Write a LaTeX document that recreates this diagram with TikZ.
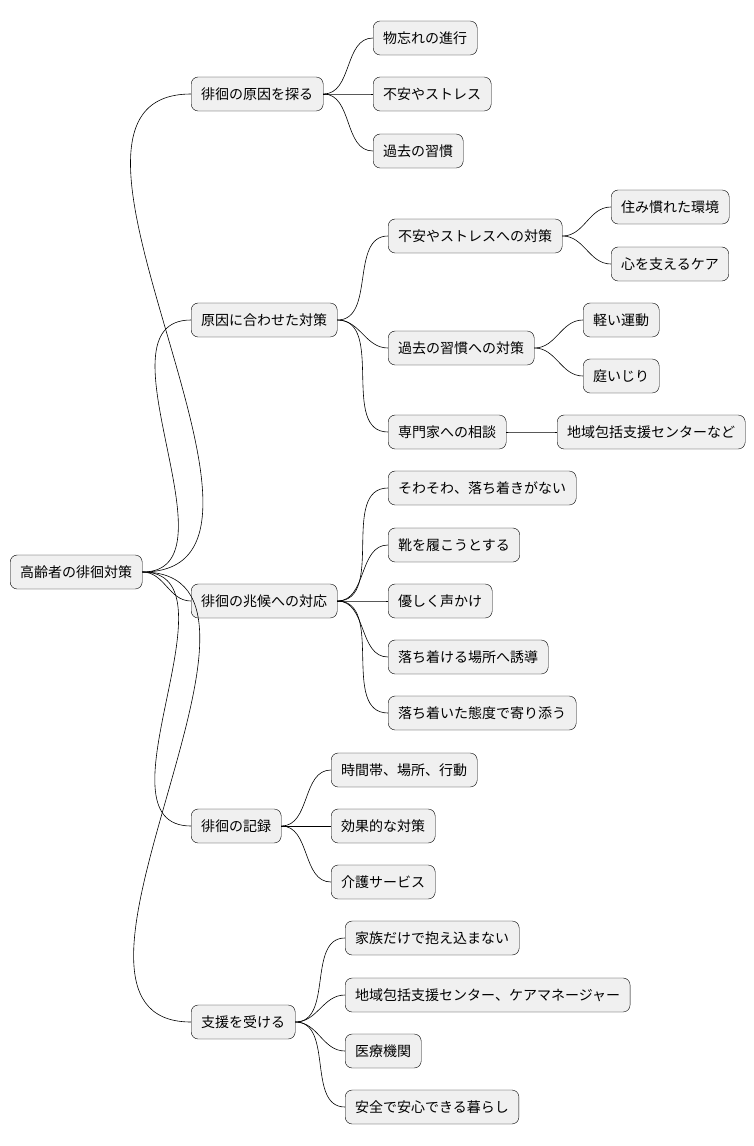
\documentclass[tikz,border=0pt]{standalone}
\usepackage{fontspec}
\setmainfont{Noto Sans CJK JP}
\usepackage{tikz}

\tikzset{
  topic/.style={draw=black, fill=black!6, rounded corners=7pt, anchor=west,
    minimum height=34pt, inner xsep=10pt, font=\fontsize{14}{16}\selectfont},
  branch/.style={draw=black, line width=0.6pt}
}

\begin{document}
\begin{tikzpicture}[x=1pt,y=-1pt]
		\useasboundingbox (0,0) rectangle (754,1146);
		% root
		\node[topic] (root) at (10,572) {高齢者の徘徊対策};
		% first level
		\node[topic] (cause) at (191,94) {徘徊の原因を探る};
		\node[topic] (plan) at (191,320) {原因に合わせた対策};
		\node[topic] (sign) at (191,601) {徘徊の兆候への対応};
		\node[topic] (log) at (191,826) {徘徊の記録};
		\node[topic] (help) at (191,1022) {支援を受ける};
		% causes
		\node[topic] (forget) at (373,38) {物忘れの進行};
		\node[topic] (stress) at (373,94) {不安やストレス};
		\node[topic] (habit) at (373,151) {過去の習慣};
		% plans
		\node[topic] (pstress) at (388,236) {不安やストレスへの対策};
		\node[topic] (phabit) at (388,348) {過去の習慣への対策};
		\node[topic] (expert) at (388,432) {専門家への相談};
		\node[topic] (home) at (611,207) {住み慣れた環境};
		\node[topic] (care) at (611,264) {心を支えるケア};
		\node[topic] (walk) at (583,320) {軽い運動};
		\node[topic] (garden) at (583,376) {庭いじり};
		\node[topic] (center) at (557,432) {地域包括支援センターなど};
		% signs
		\node[topic] (restless) at (388,488) {そわそわ、落ち着きがない};
		\node[topic] (shoes) at (388,545) {靴を履こうとする};
		\node[topic] (voice) at (388,601) {優しく声かけ};
		\node[topic] (guide) at (388,657) {落ち着ける場所へ誘導};
		\node[topic] (calm) at (388,713) {落ち着いた態度で寄り添う};
		% records
		\node[topic] (when) at (331,770) {時間帯、場所、行動};
		\node[topic] (effect) at (331,826) {効果的な対策};
		\node[topic] (service) at (331,882) {介護サービス};
		% support
		\node[topic] (family) at (345,938) {家族だけで抱え込まない};
		\node[topic] (manager) at (345,995) {地域包括支援センター、ケアマネージャー};
		\node[topic] (clinic) at (345,1051) {医療機関};
		\node[topic] (safe) at (345,1107) {安全で安心できる暮らし};
		% connectors
		\foreach \a/\b in {root/cause, root/plan, root/sign, root/log, root/help,
		  cause/forget, cause/stress, cause/habit,
		  plan/pstress, plan/phabit, plan/expert,
		  pstress/home, pstress/care, phabit/walk, phabit/garden, expert/center,
		  sign/restless, sign/shoes, sign/voice, sign/guide, sign/calm,
		  log/when, log/effect, log/service,
		  help/family, help/manager, help/clinic, help/safe}
		  \draw[branch] (\a.east) to[out=0,in=180] (\b.west);
\end{tikzpicture}
\end{document}
